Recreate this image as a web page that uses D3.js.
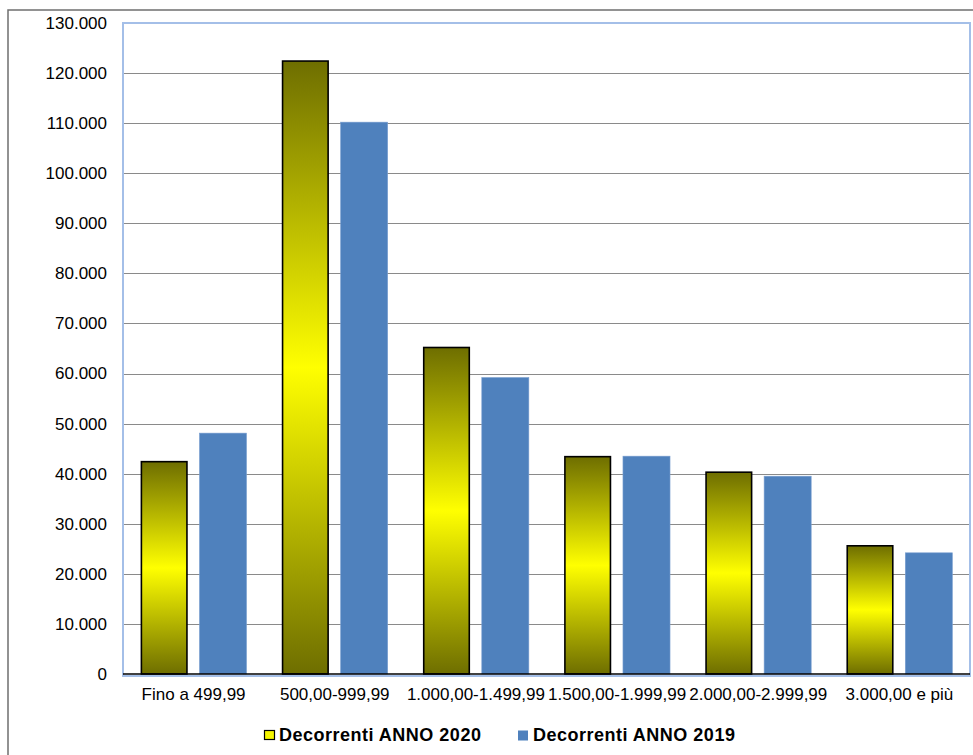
<!DOCTYPE html>
<html>
<head>
<meta charset="utf-8">
<script src="https://cdn.jsdelivr.net/npm/d3@7"></script>
<style>
  html, body { margin: 0; padding: 0; background: #fff; }
  svg { display: block; }
  text { font-family: "Liberation Sans", Arial, sans-serif; }
</style>
</head>
<body>
<svg id="chart" width="973" height="755"></svg>
<script>
const categories = ["Fino a 499,99", "500,00-999,99", "1.000,00-1.499,99", "1.500,00-1.999,99", "2.000,00-2.999,99", "3.000,00 e più"];
const seriesNames = ["Decorrenti ANNO 2020", "Decorrenti ANNO 2019"];
const values2020 = [42400, 122400, 65200, 43400, 40300, 25600];
const values2019 = [48100, 110200, 59200, 43500, 39500, 24200];
const yTicks = [0, 10000, 20000, 30000, 40000, 50000, 60000, 70000, 80000, 90000, 100000, 110000, 120000, 130000];

const svg = d3.select("#chart");
const W = 973, H = 755;
const plot = { left: 123, top: 23, right: 970, bottom: 674 };

const defs = svg.append("defs");
const grad = defs.append("linearGradient")
  .attr("id", "yellowGrad").attr("x1", 0).attr("y1", 0).attr("x2", 0).attr("y2", 1);
grad.append("stop").attr("offset", "0%").attr("stop-color", "#6e6e00");
grad.append("stop").attr("offset", "50%").attr("stop-color", "#ffff00");
grad.append("stop").attr("offset", "100%").attr("stop-color", "#6e6e00");

// outer frame
svg.append("rect")
  .attr("x", 8).attr("y", 10).attr("width", 980).attr("height", 770)
  .attr("fill", "#fff").attr("stroke", "#6f6f6f").attr("stroke-width", 1.5);

const x0 = d3.scaleBand().domain(categories).range([plot.left, plot.right]).paddingInner(0).paddingOuter(0);
const y = d3.scaleLinear().domain([0, 130000]).range([plot.bottom, plot.top]);

// plot area border
svg.append("rect")
  .attr("x", plot.left).attr("y", plot.top)
  .attr("width", plot.right - plot.left).attr("height", plot.bottom - plot.top + 2)
  .attr("fill", "#fff").attr("stroke", "#a4bfe8").attr("stroke-width", 2);

// gridlines
svg.append("g").selectAll("line").data(yTicks.filter(d => d > 0 && d < 130000)).join("line")
  .attr("x1", plot.left + 1).attr("x2", plot.right - 1)
  .attr("y1", d => Math.round(y(d)) + 0.5).attr("y2", d => Math.round(y(d)) + 0.5)
  .attr("stroke", "#8a8a8a").attr("stroke-width", 1.2);

// y axis labels
const fmt = d => d3.format(",")(d).replace(/,/g, ".");
const yAxis = d3.axisLeft(y).tickValues(yTicks).tickSize(0).tickPadding(0).tickFormat(fmt);
const yg = svg.append("g").attr("transform", `translate(${107},0)`).call(yAxis);
yg.select(".domain").remove();
yg.selectAll("text").attr("font-size", 17).attr("fill", "#000")
  .attr("font-family", "'Liberation Sans', Arial, sans-serif");

// bars
const bw = x0.bandwidth();
const w = bw / 3;
const offsets = [0.375 * w, 1.625 * w];

const g20 = svg.append("g");
g20.selectAll("rect").data(categories).join("rect")
  .attr("x", (d) => x0(d) + offsets[0] + 0.75)
  .attr("width", w - 1.5)
  .attr("y", (d, i) => y(values2020[i]))
  .attr("height", (d, i) => y(0) - y(values2020[i]))
  .attr("fill", "url(#yellowGrad)")
  .attr("stroke", "#000").attr("stroke-width", 1.6);

const g19 = svg.append("g");
g19.selectAll("rect").data(categories).join("rect")
  .attr("x", (d) => x0(d) + offsets[1])
  .attr("width", w)
  .attr("y", (d, i) => y(values2019[i]))
  .attr("height", (d, i) => y(0) - y(values2019[i]))
  .attr("fill", "#4f81bd")
  .attr("stroke", "#7a9fd0").attr("stroke-width", 0.6);

// baseline
svg.append("line")
  .attr("x1", plot.left).attr("x2", plot.right)
  .attr("y1", y(0)).attr("y2", y(0))
  .attr("stroke", "#000").attr("stroke-width", 1.5);

// x axis labels
const xAxis = d3.axisBottom(x0).tickSize(0).tickPadding(0);
const xg = svg.append("g").attr("transform", `translate(0,${688})`).call(xAxis);
xg.select(".domain").remove();
xg.selectAll("text").attr("font-size", 17).attr("fill", "#000").attr("dy", "0.71em")
  .attr("font-family", "'Liberation Sans', Arial, sans-serif");

// legend
const legendItems = [
  { name: seriesNames[0], x: 264, fill: "#f5f500", stroke: "#000" },
  { name: seriesNames[1], x: 518, fill: "#4f81bd", stroke: "none" }
];
const lg = svg.append("g");
legendItems.forEach(it => {
  lg.append("rect").attr("x", it.x + (it.stroke === "none" ? 0 : 0.5)).attr("y", 730.5)
    .attr("width", it.stroke === "none" ? 10 : 10).attr("height", it.stroke === "none" ? 10 : 9)
    .attr("fill", it.fill).attr("stroke", it.stroke).attr("stroke-width", 1.2);
  lg.append("text").attr("x", it.x + 15).attr("y", 741)
    .attr("font-size", 18).attr("font-weight", "bold").attr("letter-spacing", "0.5px")
    .attr("fill", "#000").text(it.name);
});
</script>
</body>
</html>
